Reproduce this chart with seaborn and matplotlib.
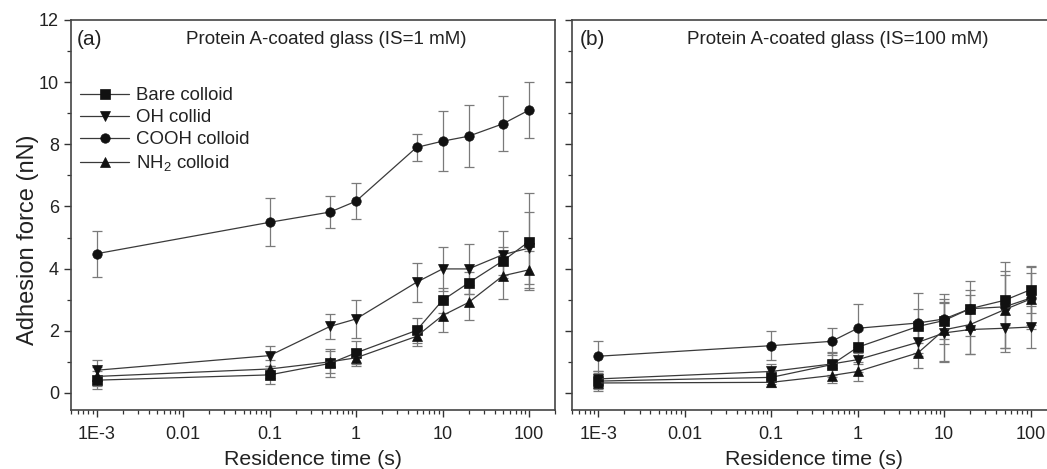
import numpy as np
import pandas as pd
import matplotlib
matplotlib.use("Agg")
import matplotlib.pyplot as plt
from matplotlib.ticker import LogLocator, FixedLocator, MultipleLocator, NullFormatter
import seaborn as sns

# ---------------- data ----------------
times = [0.001, 0.1, 0.5, 1, 5, 10, 20, 50, 100]
series_names = ["Bare colloid", "OH collid", "COOH colloid", "NH$_2$ colloid"]

bare_a = [0.41, 0.58, 0.95, 1.29, 2.01, 2.98, 3.54, 4.25, 4.87]
bare_a_err = [0.28, 0.28, 0.45, 0.37, 0.41, 0.40, 0.35, 0.45, 1.56]
oh_a = [0.73, 1.20, 2.14, 2.38, 3.56, 3.99, 3.99, 4.45, 4.66]
oh_a_err = [0.32, 0.32, 0.40, 0.62, 0.63, 0.72, 0.80, 0.75, 1.15]
cooh_a = [4.48, 5.49, 5.82, 6.17, 7.90, 8.10, 8.26, 8.66, 9.10]
cooh_a_err = [0.74, 0.77, 0.51, 0.58, 0.43, 0.96, 0.99, 0.89, 0.89]
nh2_a = [0.53, 0.77, 1.00, 1.13, 1.82, 2.49, 2.91, 3.77, 3.96]
nh2_a_err = [0.30, 0.30, 0.35, 0.27, 0.30, 0.54, 0.55, 0.75, 0.60]

bare_b = [0.38, 0.50, 0.91, 1.47, 2.14, 2.33, 2.71, 2.98, 3.32]
bare_b_err = [0.25, 0.20, 0.40, 0.55, 0.55, 0.60, 0.60, 0.80, 0.75]
oh_b = [0.45, 0.69, 0.93, 1.07, 1.63, 1.93, 2.04, 2.08, 2.12]
oh_b_err = [0.25, 0.25, 0.35, 0.40, 0.45, 0.95, 0.80, 0.65, 0.67]
cooh_b = [1.18, 1.52, 1.66, 2.08, 2.25, 2.38, 2.71, 2.77, 3.05]
cooh_b_err = [0.48, 0.46, 0.43, 0.78, 0.98, 0.80, 0.88, 1.45, 1.00]
nh2_b = [0.32, 0.34, 0.56, 0.69, 1.29, 2.03, 2.20, 2.68, 3.02]
nh2_b_err = [0.25, 0.15, 0.25, 0.32, 0.48, 1.00, 0.95, 1.25, 0.85]

panel_titles = ["Protein A-coated glass (IS=1 mM)", "Protein A-coated glass (IS=100 mM)"]
panel_letters = ["(a)", "(b)"]
xtick_vals = [0.001, 0.01, 0.1, 1, 10, 100]
xtick_labels = ["1E-3", "0.01", "0.1", "1", "10", "100"]

# ---------------- style ----------------
sns.set_theme(style="ticks")
plt.rcParams["font.family"] = ["Liberation Sans", "DejaVu Sans"]
plt.rcParams["mathtext.default"] = "regular"
text_color = "#222222"
plt.rcParams["text.color"] = text_color
plt.rcParams["axes.labelcolor"] = text_color
plt.rcParams["xtick.color"] = "#333333"
plt.rcParams["ytick.color"] = "#333333"
plt.rcParams["xtick.labelcolor"] = text_color
plt.rcParams["ytick.labelcolor"] = text_color

markers = ["s", "v", "o", "^"]
line_color = "#3a3a3a"
marker_color = "#111111"
err_color = "#7a7a7a"

W, H = 1047, 469
fig = plt.figure(figsize=(W / 100, H / 100), dpi=100)
ax_w = 484.3 / W
ax_h = 390 / H
ax_b = (H - 410) / H
ax1 = fig.add_axes([70.7 / W, ax_b, ax_w, ax_h])
ax2 = fig.add_axes([572.3 / W, ax_b, ax_w, ax_h])

panels = [
    (ax1, [bare_a, oh_a, cooh_a, nh2_a], [bare_a_err, oh_a_err, cooh_a_err, nh2_a_err]),
    (ax2, [bare_b, oh_b, cooh_b, nh2_b], [bare_b_err, oh_b_err, cooh_b_err, nh2_b_err]),
]

for ax, vals, errs in panels:
    ax.set_xscale("log")
    for name, v, e, m in zip(series_names, vals, errs, markers):
        ax.errorbar(times, v, yerr=e, fmt="none", ecolor=err_color, elinewidth=0.9,
                    capsize=3.4, capthick=0.9, zorder=2)
        df = pd.DataFrame({"t": times, "f": v})
        sns.lineplot(data=df, x="t", y="f", ax=ax, color=line_color, linewidth=0.9,
                     marker=m, markersize=6.8, markerfacecolor=marker_color,
                     markeredgecolor=marker_color, markeredgewidth=0.5, label=name,
                     legend=False, zorder=3)
    ax.set_xlim(5e-4, 200)
    ax.set_ylim(-0.55, 12)
    ax.xaxis.set_major_locator(FixedLocator(xtick_vals))
    ax.set_xticklabels(xtick_labels)
    ax.xaxis.set_minor_locator(LogLocator(base=10, subs=np.arange(2, 10)))
    ax.xaxis.set_minor_formatter(NullFormatter())
    ax.yaxis.set_major_locator(MultipleLocator(2))
    ax.yaxis.set_minor_locator(MultipleLocator(1))
    ax.tick_params(which="major", direction="out", length=5, width=1.0, labelsize=13,
                   top=False, right=False)
    ax.tick_params(axis="x", which="major", pad=6.5)
    ax.tick_params(which="minor", direction="out", length=3, width=0.9,
                   top=False, right=False)
    for s in ax.spines.values():
        s.set_color("#444444")
        s.set_linewidth(1.2)
    ax.set_xlabel("Residence time (s)", fontsize=15.4, labelpad=5)
    ax.set_ylabel("")

ax1.set_ylabel("Adhesion force (nN)", fontsize=17)
ax1.yaxis.set_label_coords(-0.066, 0.437)
ax2.tick_params(axis="y", labelleft=False)

ax1.text(0.013, 0.949, panel_letters[0], transform=ax1.transAxes, fontsize=15, va="center", ha="left")
ax1.text(0.527, 0.951, panel_titles[0], transform=ax1.transAxes, fontsize=13.5, va="center", ha="center")
ax2.text(0.015, 0.949, panel_letters[1], transform=ax2.transAxes, fontsize=15, va="center", ha="left")
ax2.text(0.548, 0.951, panel_titles[1], transform=ax2.transAxes, fontsize=13.5, va="center", ha="center")

handles, labels = ax1.get_legend_handles_labels()
leg = ax1.legend(handles[:4], labels[:4], loc="upper left", bbox_to_anchor=(0.02, 0.827),
                 frameon=False, fontsize=13.4, handlelength=2.6, handletextpad=0.4,
                 labelspacing=0.26, borderpad=0, borderaxespad=0)

fig.savefig("out.png", dpi=100)
